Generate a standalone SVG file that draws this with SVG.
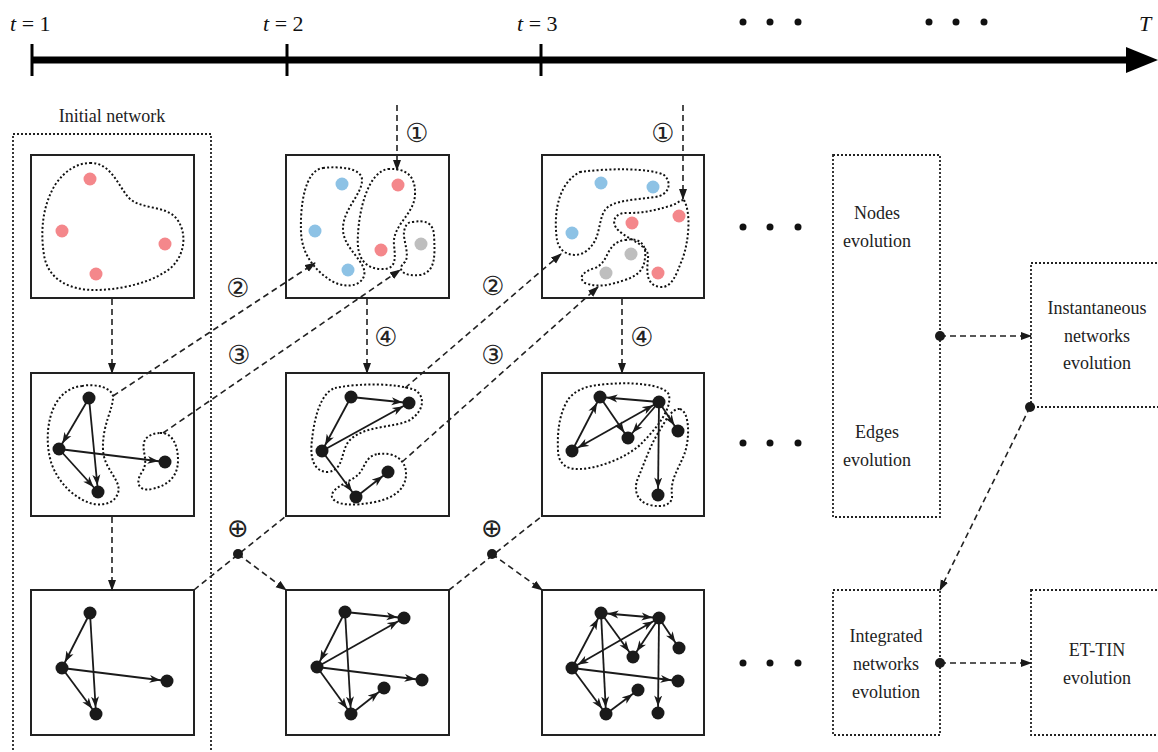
<svg xmlns="http://www.w3.org/2000/svg" width="1158" height="752" viewBox="0 0 1158 752">
<style>
.box{fill:none;stroke:#222;stroke-width:2}
.dbox{fill:none;stroke:#222;stroke-width:1.8;stroke-dasharray:2 2}
.blob{fill:none;stroke:#111;stroke-width:2;stroke-dasharray:2 2.2}
.dash{fill:none;stroke:#222;stroke-width:1.6;stroke-dasharray:6 4}
.edge{stroke:#1a1a1a;stroke-width:1.8;fill:none}
.n{fill:#1a1a1a}
.red{fill:#F4878B}.blue{fill:#8DC2E5}.gray{fill:#BEBEBE}
.lbl{font-family:"Liberation Serif","Times New Roman",serif;font-size:18px;fill:#222;text-anchor:middle}
.num{font-family:"DejaVu Sans",sans-serif;font-size:26px;fill:#222;text-anchor:middle}
.t{font-family:"Liberation Serif","Times New Roman",serif;font-size:22px;fill:#111}
</style>
<defs>
<marker id="ah" markerUnits="userSpaceOnUse" markerWidth="11" markerHeight="9" refX="17.5" refY="4" orient="auto-start-reverse" viewBox="0 0 11 8">
<path d="M0,0 L11,4 L0,8 L3,4 z" fill="#1a1a1a"/>
</marker>
<marker id="dh" markerUnits="userSpaceOnUse" markerWidth="11" markerHeight="9" refX="10" refY="4" orient="auto" viewBox="0 0 11 8">
<path d="M0,0 L11,4 L0,8 z" fill="#1a1a1a"/>
</marker>
</defs>

<g id="timeline">
<line x1="32" y1="60" x2="1132" y2="60" stroke="#000" stroke-width="7"/>
<polygon points="1126,47 1158,60 1126,73" fill="#000"/>
<line x1="32" y1="44" x2="32" y2="76" stroke="#000" stroke-width="3"/>
<line x1="287" y1="44" x2="287" y2="76" stroke="#000" stroke-width="3"/>
<line x1="541" y1="44" x2="541" y2="76" stroke="#000" stroke-width="3"/>
<text class="t" x="10" y="31"><tspan font-style="italic">t</tspan> = 1</text>
<text class="t" x="263" y="31"><tspan font-style="italic">t</tspan> = 2</text>
<text class="t" x="517" y="31"><tspan font-style="italic">t</tspan> = 3</text>
<text class="t" x="1139" y="31" font-style="italic">T</text>
<g fill="#111">
<circle cx="743" cy="22" r="3.5"/><circle cx="770" cy="22" r="3.5"/><circle cx="798" cy="22" r="3.5"/>
<circle cx="929" cy="22" r="3.5"/><circle cx="956" cy="22" r="3.5"/><circle cx="984" cy="22" r="3.5"/>
</g>
</g>

<g id="initial-frame">
<rect class="dbox" x="13" y="134" width="198" height="640"/>
<text class="lbl" x="112" y="122">Initial network</text>
</g>

<g id="c1-top">
<rect class="box" x="31" y="155" width="163" height="143"/>
<path class="blob" d="M90,163 C110,162 118,185 128,197 C140,210 165,205 176,218 C190,235 183,262 165,272 C145,285 115,290 95,290 C70,290 48,280 44,255 C40,230 43,205 55,185 C65,170 78,163 90,163 Z"/>
<circle class="red" cx="90" cy="179" r="6.5"/><circle class="red" cx="62" cy="231" r="6.5"/>
<circle class="red" cx="165" cy="244" r="6.5"/><circle class="red" cx="96" cy="274" r="6.5"/>
</g>

<g id="c2-top">
<rect class="box" x="286" y="155" width="163" height="143"/>
<path class="blob" d="M323,168 C340,166 362,168 362,180 C362,195 342,210 343,230 C344,250 368,262 364,276 C360,288 342,288 330,280 C315,270 302,255 301,232 C300,205 305,170 323,168 Z"/>
<path class="blob" d="M388,169 C405,168 416,175 415,195 C414,215 392,225 394,245 C396,262 395,270 380,269 C365,268 356,258 358,235 C359,210 368,172 388,169 Z"/>
<path class="blob" d="M412,222 C425,220 433,222 434,235 C435,255 436,272 420,275 C405,277 395,270 405,262 C410,255 403,240 404,232 C405,225 408,222 412,222 Z"/>
<circle class="blue" cx="342" cy="184" r="6.5"/><circle class="blue" cx="315" cy="231" r="6.5"/><circle class="blue" cx="348" cy="270" r="6.5"/>
<circle class="red" cx="398" cy="185" r="6.5"/><circle class="red" cx="381" cy="250" r="6.5"/>
<circle class="gray" cx="421" cy="244" r="6.5"/>
</g>

<g id="c3-top">
<rect class="box" x="542" y="155" width="162" height="143"/>
<path class="blob" d="M580,172 C610,168 650,168 664,175 C672,182 670,195 655,197 C635,200 612,200 605,210 C597,222 602,240 585,252 C575,258 560,255 557,240 C554,220 555,185 580,172 Z"/>
<path class="blob" d="M684,200 C692,215 688,245 682,260 C676,275 672,288 660,287 C645,285 647,270 648,258 C650,245 628,240 618,230 C610,222 615,212 628,213 C645,213 655,210 670,206 C677,204 680,200 684,200 Z"/>
<path class="blob" d="M625,240 C640,237 647,245 645,258 C644,268 640,275 625,280 C610,285 598,288 585,283 C578,278 582,272 595,268 C610,262 605,243 625,240 Z"/>
<circle class="blue" cx="601" cy="183" r="6.5"/><circle class="blue" cx="653" cy="187" r="6.5"/><circle class="blue" cx="572" cy="233" r="6.5"/>
<circle class="red" cx="632" cy="223" r="6.5"/><circle class="red" cx="679" cy="216" r="6.5"/><circle class="red" cx="658" cy="273" r="6.5"/>
<circle class="gray" cx="631" cy="254" r="6.5"/><circle class="gray" cx="606" cy="273" r="6.5"/>
</g>

<g id="c1-mid">
<rect class="box" x="31" y="373" width="163" height="143"/>
<path class="blob" d="M82,386 C95,383 113,388 113,397 C113,410 102,425 103,450 C104,470 122,480 118,493 C114,505 100,506 90,503 C75,498 60,485 52,465 C45,445 47,420 55,405 C62,392 72,387 82,386 Z"/>
<path class="blob" d="M160,433 C172,432 178,445 178,460 C178,475 170,485 152,489 C138,492 135,482 142,472 C150,460 140,450 145,440 C148,435 155,433 160,433 Z"/>
<g marker-end="url(#ah)" class="edge">
<line x1="89" y1="398" x2="59" y2="449"/><line x1="89" y1="398" x2="98" y2="492"/>
<line x1="59" y1="449" x2="165" y2="462"/><line x1="59" y1="449" x2="98" y2="492"/>
</g>
<circle class="n" cx="89" cy="398" r="6.5"/><circle class="n" cx="59" cy="449" r="6.5"/>
<circle class="n" cx="165" cy="462" r="6.5"/><circle class="n" cx="98" cy="492" r="6.5"/>
</g>

<g id="c2-mid">
<rect class="box" x="286" y="373" width="163" height="143"/>
<path class="blob" d="M335,388 C360,383 395,383 415,390 C425,396 425,410 410,420 C395,428 365,425 350,440 C340,450 345,470 328,472 C312,472 310,455 312,440 C314,420 320,393 335,388 Z"/>
<path class="blob" d="M378,454 C395,452 405,460 406,472 C407,488 395,498 375,502 C355,506 335,506 332,497 C330,488 350,482 358,475 C365,468 365,456 378,454 Z"/>
<g marker-end="url(#ah)" class="edge">
<line x1="351" y1="397" x2="409" y2="403"/><line x1="351" y1="397" x2="322" y2="451"/>
<line x1="322" y1="451" x2="409" y2="403"/><line x1="322" y1="451" x2="356" y2="497"/>
<line x1="356" y1="497" x2="388" y2="472"/>
</g>
<circle class="n" cx="351" cy="397" r="6.5"/><circle class="n" cx="409" cy="403" r="6.5"/>
<circle class="n" cx="322" cy="451" r="6.5"/><circle class="n" cx="356" cy="497" r="6.5"/>
<circle class="n" cx="388" cy="472" r="6.5"/>
</g>

<g id="c3-mid">
<rect class="box" x="542" y="373" width="162" height="143"/>
<path class="blob" d="M598,385 C630,381 665,384 669,395 C672,410 655,430 640,445 C625,458 600,468 580,469 C565,470 558,462 558,450 C557,430 560,410 570,397 C578,389 588,386 598,385 Z"/>
<path class="blob" d="M680,409 C690,412 690,440 684,455 C678,470 670,480 672,495 C673,505 662,508 650,505 C637,502 633,490 638,478 C645,462 650,445 660,430 C666,420 672,408 680,409 Z"/>
<g marker-end="url(#ah)" class="edge">
<line x1="659" y1="402" x2="600" y2="397"/><line x1="600" y1="397" x2="628" y2="438"/>
<line x1="572" y1="451" x2="600" y2="397"/>
<line x1="572" y1="451" x2="659" y2="402" marker-start="url(#ah)"/>
<line x1="659" y1="402" x2="628" y2="438"/><line x1="659" y1="402" x2="678" y2="431"/>
<line x1="659" y1="402" x2="658" y2="495"/>
</g>
<circle class="n" cx="600" cy="397" r="6.5"/><circle class="n" cx="659" cy="402" r="6.5"/>
<circle class="n" cx="628" cy="438" r="6.5"/><circle class="n" cx="572" cy="451" r="6.5"/>
<circle class="n" cx="678" cy="431" r="6.5"/><circle class="n" cx="658" cy="495" r="6.5"/>
</g>

<g id="c1-bot">
<rect class="box" x="31" y="590" width="163" height="145"/>
<g marker-end="url(#ah)" class="edge">
<line x1="90" y1="613" x2="62" y2="668"/><line x1="90" y1="613" x2="96" y2="714"/>
<line x1="62" y1="668" x2="167" y2="681"/><line x1="62" y1="668" x2="96" y2="714"/>
</g>
<circle class="n" cx="90" cy="613" r="6.5"/><circle class="n" cx="62" cy="668" r="6.5"/>
<circle class="n" cx="167" cy="681" r="6.5"/><circle class="n" cx="96" cy="714" r="6.5"/>
</g>

<g id="c2-bot">
<rect class="box" x="286" y="590" width="163" height="145"/>
<g marker-end="url(#ah)" class="edge">
<line x1="345" y1="612" x2="404" y2="618"/><line x1="345" y1="612" x2="317" y2="667"/>
<line x1="317" y1="667" x2="404" y2="618"/><line x1="317" y1="667" x2="422" y2="680"/>
<line x1="317" y1="667" x2="351" y2="714"/><line x1="345" y1="612" x2="351" y2="714"/>
<line x1="351" y1="714" x2="384" y2="688"/>
</g>
<circle class="n" cx="345" cy="612" r="6.5"/><circle class="n" cx="404" cy="618" r="6.5"/>
<circle class="n" cx="317" cy="667" r="6.5"/><circle class="n" cx="422" cy="680" r="6.5"/>
<circle class="n" cx="384" cy="688" r="6.5"/><circle class="n" cx="351" cy="714" r="6.5"/>
</g>

<g id="c3-bot">
<rect class="box" x="542" y="590" width="162" height="145"/>
<g marker-end="url(#ah)" class="edge">
<line x1="601" y1="613" x2="659" y2="618" marker-start="url(#ah)"/>
<line x1="601" y1="613" x2="633" y2="657"/><line x1="659" y1="618" x2="633" y2="657"/>
<line x1="659" y1="618" x2="679" y2="648"/><line x1="572" y1="668" x2="601" y2="613"/>
<line x1="572" y1="668" x2="659" y2="618" marker-start="url(#ah)"/>
<line x1="659" y1="618" x2="658" y2="713"/><line x1="572" y1="668" x2="678" y2="681"/>
<line x1="572" y1="668" x2="606" y2="714"/><line x1="601" y1="613" x2="606" y2="714"/>
<line x1="606" y1="714" x2="638" y2="690"/>
</g>
<circle class="n" cx="601" cy="613" r="6.5"/><circle class="n" cx="659" cy="618" r="6.5"/>
<circle class="n" cx="633" cy="657" r="6.5"/><circle class="n" cx="679" cy="648" r="6.5"/>
<circle class="n" cx="572" cy="668" r="6.5"/><circle class="n" cx="678" cy="681" r="6.5"/>
<circle class="n" cx="638" cy="690" r="6.5"/><circle class="n" cx="606" cy="714" r="6.5"/>
<circle class="n" cx="658" cy="713" r="6.5"/>
</g>

<g id="ellipses" fill="#111">
<circle cx="743" cy="227" r="3.5"/><circle cx="770" cy="227" r="3.5"/><circle cx="798" cy="227" r="3.5"/>
<circle cx="743" cy="443" r="3.5"/><circle cx="770" cy="443" r="3.5"/><circle cx="798" cy="443" r="3.5"/>
<circle cx="743" cy="663" r="3.5"/><circle cx="770" cy="663" r="3.5"/><circle cx="798" cy="663" r="3.5"/>
</g>

<g id="nodes-edges-box">
<rect class="dbox" x="833" y="155" width="107" height="362"/>
<text class="lbl" x="877" y="219">Nodes</text>
<text class="lbl" x="877" y="247">evolution</text>
<text class="lbl" x="877" y="438">Edges</text>
<text class="lbl" x="877" y="466">evolution</text>
</g>
<g id="instantaneous-box">
<rect class="dbox" x="1031" y="263" width="140" height="144"/>
<text class="lbl" x="1097" y="314">Instantaneous</text>
<text class="lbl" x="1097" y="342">networks</text>
<text class="lbl" x="1097" y="369">evolution</text>
</g>
<g id="integrated-box">
<rect class="dbox" x="833" y="590" width="107" height="145"/>
<text class="lbl" x="886" y="642">Integrated</text>
<text class="lbl" x="886" y="670">networks</text>
<text class="lbl" x="886" y="698">evolution</text>
</g>
<g id="ettin-box">
<rect class="dbox" x="1031" y="590" width="140" height="145"/>
<text class="lbl" x="1097" y="656">ET-TIN</text>
<text class="lbl" x="1097" y="684">evolution</text>
</g>

<g id="connectors">
<g class="dash" marker-end="url(#dh)">
<line x1="112" y1="299" x2="112" y2="373"/>
<line x1="112" y1="517" x2="112" y2="590"/>
<line x1="367" y1="299" x2="367" y2="373"/>
<line x1="622" y1="299" x2="622" y2="373"/>
<line x1="397" y1="105" x2="397" y2="170"/>
<line x1="683" y1="105" x2="683" y2="199"/>
<line x1="113" y1="396" x2="315" y2="263"/>
<line x1="163" y1="433" x2="400" y2="270"/>
<line x1="405" y1="388" x2="561" y2="254"/>
<line x1="402" y1="462" x2="598" y2="287"/>
<line x1="238" y1="554" x2="286" y2="590"/>
<line x1="492" y1="554" x2="542" y2="590"/>
<line x1="940" y1="336" x2="1031" y2="336"/>
<line x1="940" y1="663" x2="1031" y2="663"/>
<line x1="1030" y1="407" x2="940" y2="590"/>
</g>
<g class="dash">
<line x1="194" y1="590" x2="286" y2="516"/>
<line x1="449" y1="590" x2="542" y2="516"/>
</g>
<g class="n">
<circle cx="238" cy="554" r="5"/><circle cx="492" cy="554" r="5"/>
<circle cx="940" cy="336" r="5"/><circle cx="940" cy="663" r="5"/>
<circle cx="1030" cy="407" r="5"/>
</g>
<text class="num" x="417" y="142">①</text>
<text class="num" x="663" y="142">①</text>
<text class="num" x="238" y="297">②</text>
<text class="num" x="493" y="295">②</text>
<text class="num" x="239" y="364">③</text>
<text class="num" x="493" y="364">③</text>
<text class="num" x="386" y="346">④</text>
<text class="num" x="642" y="346">④</text>
<text class="num" x="238" y="537" font-size="28">⊕</text>
<text class="num" x="492" y="537" font-size="28">⊕</text>
</g>
</svg>
